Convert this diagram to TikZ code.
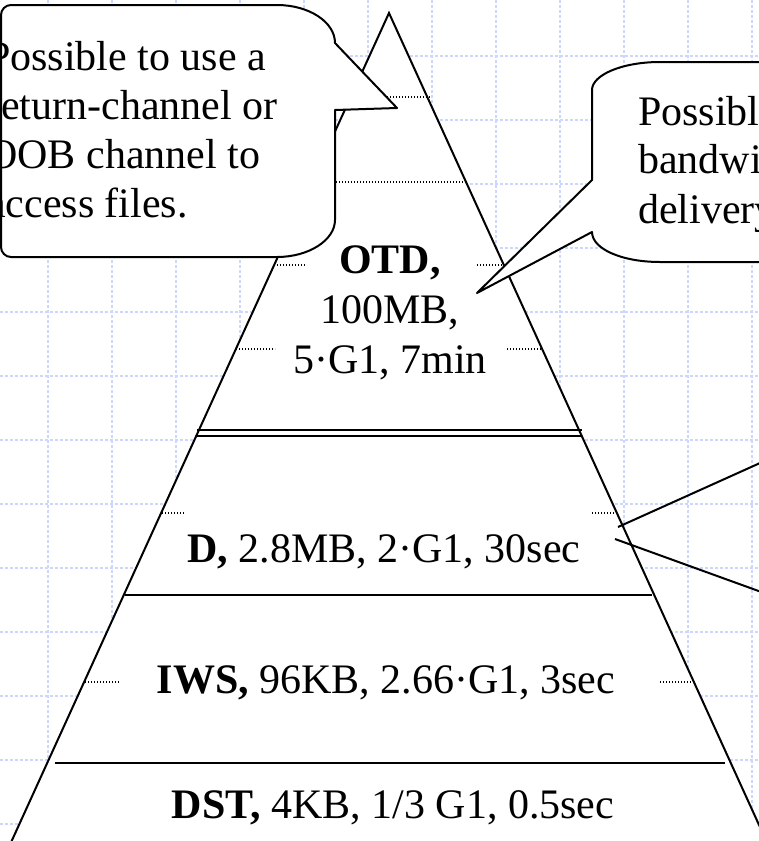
\documentclass[tikz,border=0pt]{standalone}
\usepackage{fontspec}
\setmainfont{Liberation Serif}
\usepackage{xcolor}
\definecolor{gridblue}{RGB}{204, 214, 255}

\begin{document}
\begin{tikzpicture}[x=1pt, y=-1pt,
        gridline/.style={gridblue, line width=1.5pt, dash pattern=on 3pt off 2pt},
        edgeline/.style={line width=2pt, line join=miter},
        levelline/.style={line width=2.5pt},
        tickline/.style={line width=1.2pt, dash pattern=on 1.2pt off 1.8pt},
        bubble/.style={draw, line width=2pt, fill=white, line join=round},
        lbl/.style={font=\fontsize{42}{49}\selectfont, inner sep=0pt}]

    \useasboundingbox (0,0) rectangle (758,841);

    % --- Grid ---
    \foreach \x in {48,112,...,752} \draw[gridline] (\x,0) -- (\x,841);
    \foreach \y in {56,120,...,824} \draw[gridline] (0,\y) -- (758,\y);

    % --- Pyramid ---
    \coordinate (apex) at (389,13);
    \coordinate (baseR) at (775,860);
    \coordinate (baseL) at (3,860);
    \draw[edgeline, fill=white] (apex) -- (baseR) -- (baseL) -- cycle;

    % --- Level lines ---
    \draw[line width=2pt] (197,430) -- (582,430);
    \draw[line width=2pt] (197,436) -- (582,436);
    \draw[levelline] (125,595) -- (652,595);
    \draw[levelline] (55,763) -- (725,763);

    % --- Dotted ticks ---
    \foreach \a/\b/\y in {351/430/97, 312/466/182, 274/305/265, 477/504/265,
                          236/275/349, 507/542/349, 162/185/513, 592/616/513,
                          85/120/682, 660/693/682}
        \draw[tickline] (\a,\y) -- (\b,\y);

    % --- Level labels ---
    \node[lbl, anchor=base] (otd) at (390,273) {\textbf{OTD,}};
    \node[lbl, anchor=base] (otdsize) at (390,323) {100MB,};
    \node[lbl, anchor=base] (otdtime) at (390,373) {5·G1, 7min};
    \node[lbl, anchor=base] (dlevel) at (384,562) {\textbf{D,} 2.8MB, 2·G1, 30sec};
    \node[lbl, anchor=base] (iws) at (386,693) {\textbf{IWS,} 96KB, 2.66·G1, 3sec};
    \node[lbl, anchor=base] (dst) at (393,818) {\textbf{DST,} 4KB, 1/3 G1, 0.5sec};

    % --- Pointer of the callout on the right, off the page ---
    \coordinate (dtipA) at (618,527);
    \coordinate (dtipB) at (615,539);
    \coordinate (dfarA) at (800,445);
    \coordinate (dfarB) at (800,606);
    \draw[line width=2pt] (dtipA) -- (dfarA);
    \draw[line width=2pt] (dtipB) -- (dfarB);

    % --- Left callout ---
    \draw[bubble] (11,5) -- (277,5)
        .. controls (309,5) and (335,22) .. (335,43)
        -- (397,108) -- (335,110) -- (335,220)
        .. controls (335,240) and (309,257) .. (277,257)
        -- (11,257)
        .. controls (5.5,257) and (1,252.5) .. (1,247)
        -- (1,15)
        .. controls (1,9.5) and (5.5,5) .. (11,5)
        -- cycle;
    \foreach \t/\y [count=\i] in {Possible to use a/70, return-channel or/119,
                                  OOB channel to/168, access files./217}
        \node[lbl, anchor=base west] (ret\i) at (-13,\y) {\t};

    % --- Right callout ---
    \draw[bubble] (660,62) -- (800,62) -- (800,262) -- (660,262)
        .. controls (622,262) and (592,249) .. (592,232)
        -- (477,293) -- (592,180) -- (592,90)
        .. controls (592,75) and (622,62) .. (660,62)
        -- cycle;
    \foreach \t/\y [count=\i] in {Possible/125, bandwidth/173, delivery/223}
        \node[lbl, anchor=base west] (bw\i) at (638,\y) {\t};

\end{tikzpicture}
\end{document}
